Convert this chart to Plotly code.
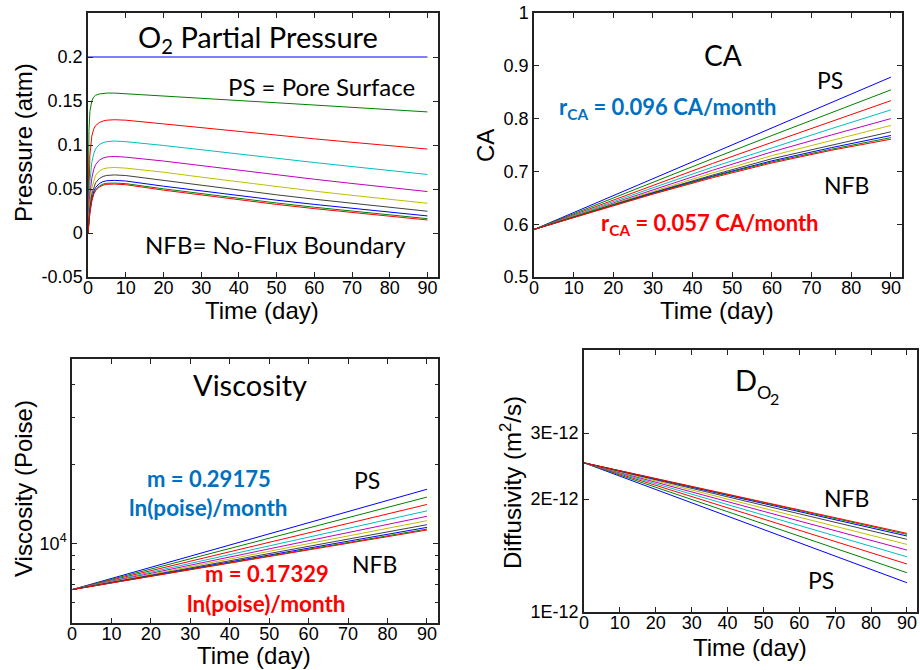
import plotly.graph_objects as go

W, H = 920, 670

# Ten radial nodes, from the pore surface (PS) to the no-flux boundary (NFB)
node_colors = ["#0000FF", "#008000", "#FF0000", "#00BFBF", "#BF00BF",
               "#BFBF00", "#404040", "#0000FF", "#008000", "#FF0000"]

# ---- O2 partial pressure (atm) ----
days_p = [0, 0.25, 0.5, 1, 1.5, 2, 3, 4, 5, 7, 10, 20, 30, 40, 50, 60, 70, 80, 90]
p_node1 = [0.2] * 19
p_node2 = [0.0, 0.115, 0.138, 0.150, 0.1545, 0.1565, 0.158, 0.1587, 0.159, 0.159, 0.1583,
           0.1557, 0.1531, 0.1505, 0.148, 0.1454, 0.1428, 0.1402, 0.1376]
p_node3 = [0.0, 0.060, 0.088, 0.110, 0.118, 0.122, 0.1255, 0.1272, 0.1282, 0.1287, 0.1282,
           0.124, 0.1196, 0.1152, 0.111, 0.107, 0.1031, 0.0992, 0.0954]
p_node4 = [0.0, 0.035, 0.058, 0.080, 0.090, 0.0955, 0.1005, 0.1027, 0.1038, 0.1045, 0.1038,
           0.0995, 0.0945, 0.0895, 0.0847, 0.0801, 0.0755, 0.071, 0.0665]
p_node5 = [0.0, 0.025, 0.043, 0.062, 0.072, 0.0775, 0.0828, 0.0852, 0.0864, 0.087, 0.0862,
           0.0818, 0.0765, 0.0712, 0.0661, 0.0611, 0.0563, 0.0516, 0.0471]
p_node6 = [0.0, 0.020, 0.035, 0.051, 0.060, 0.0655, 0.0705, 0.0728, 0.0739, 0.0745, 0.0737,
           0.0691, 0.0635, 0.058, 0.0527, 0.0476, 0.0428, 0.0382, 0.0338]
p_node7 = [0.0, 0.016, 0.029, 0.044, 0.052, 0.057, 0.062, 0.0643, 0.0654, 0.066, 0.0653,
           0.0597, 0.0543, 0.0488, 0.0434, 0.0384, 0.0336, 0.029, 0.0247]
p_node8 = [0.0, 0.014, 0.025, 0.039, 0.047, 0.0515, 0.0562, 0.0584, 0.0594, 0.0598, 0.0591,
           0.0532, 0.0478, 0.0425, 0.0373, 0.0325, 0.028, 0.0236, 0.0194]
p_node9 = [0.0, 0.013, 0.024, 0.037, 0.045, 0.049, 0.0535, 0.0556, 0.0565, 0.0568, 0.0561,
           0.0502, 0.0447, 0.0393, 0.0341, 0.0293, 0.0247, 0.0204, 0.0163]
p_node10 = [0.0, 0.013, 0.023, 0.036, 0.044, 0.048, 0.0523, 0.0544, 0.0553, 0.0556, 0.0549,
            0.0487, 0.0431, 0.0377, 0.0325, 0.0277, 0.0232, 0.0189, 0.0148]
pressure = [p_node1, p_node2, p_node3, p_node4, p_node5,
            p_node6, p_node7, p_node8, p_node9, p_node10]

# ---- contact angle (CA) ----
days = [0, 15, 30, 45, 60, 75, 90]
ca_node1 = [0.59, 0.638, 0.686, 0.734, 0.782, 0.830, 0.8785]
ca_node2 = [0.59, 0.635, 0.680, 0.724, 0.768, 0.811, 0.8544]
ca_node3 = [0.59, 0.632, 0.674, 0.715, 0.755, 0.795, 0.834]
ca_node4 = [0.59, 0.630, 0.669, 0.708, 0.745, 0.781, 0.8165]
ca_node5 = [0.59, 0.628, 0.665, 0.702, 0.737, 0.769, 0.800]
ca_node6 = [0.59, 0.627, 0.662, 0.697, 0.730, 0.759, 0.787]
ca_node7 = [0.59, 0.626, 0.660, 0.693, 0.724, 0.750, 0.775]
ca_node8 = [0.59, 0.625, 0.659, 0.691, 0.720, 0.745, 0.768]
ca_node9 = [0.59, 0.625, 0.658, 0.690, 0.718, 0.742, 0.764]
ca_node10 = [0.59, 0.624, 0.657, 0.688, 0.716, 0.740, 0.761]
contact_angle = [ca_node1, ca_node2, ca_node3, ca_node4, ca_node5,
                 ca_node6, ca_node7, ca_node8, ca_node9, ca_node10]

# ---- viscosity (poise) ----
v_node1 = [6690, 7741, 8957, 10363, 11990, 13874, 16053]
v_node2 = [6690, 7653, 8755, 10015, 11457, 13106, 14995]
v_node3 = [6690, 7572, 8570, 9699, 10977, 12424, 14058]
v_node4 = [6690, 7502, 8412, 9432, 10576, 11859, 13295]
v_node5 = [6690, 7443, 8280, 9212, 10248, 11402, 12685]
v_node6 = [6690, 7396, 8176, 9039, 9993, 11047, 12209]
v_node7 = [6690, 7352, 8080, 8880, 9759, 10725, 11787]
v_node8 = [6690, 7324, 8017, 8777, 9608, 10518, 11513]
v_node9 = [6690, 7306, 7978, 8713, 9515, 10390, 11345]
v_node10 = [6690, 7295, 7956, 8676, 9461, 10318, 11251]
viscosity = [v_node1, v_node2, v_node3, v_node4, v_node5,
             v_node6, v_node7, v_node8, v_node9, v_node10]

# ---- O2 diffusivity (1E-12 m^2/s) ----
d_node1 = [2.5, 2.211, 1.956, 1.730, 1.530, 1.353, 1.197]
d_node2 = [2.5, 2.234, 1.996, 1.784, 1.594, 1.425, 1.273]
d_node3 = [2.5, 2.254, 2.032, 1.832, 1.652, 1.490, 1.343]
d_node4 = [2.5, 2.271, 2.063, 1.873, 1.702, 1.546, 1.404]
d_node5 = [2.5, 2.287, 2.091, 1.913, 1.749, 1.600, 1.463]
d_node6 = [2.5, 2.300, 2.116, 1.946, 1.790, 1.647, 1.515]
d_node7 = [2.5, 2.312, 2.138, 1.977, 1.828, 1.690, 1.563]
d_node8 = [2.5, 2.320, 2.152, 1.997, 1.853, 1.719, 1.595]
d_node9 = [2.5, 2.323, 2.159, 2.007, 1.865, 1.733, 1.611]
d_node10 = [2.5, 2.326, 2.163, 2.013, 1.872, 1.742, 1.621]
diffusivity = [d_node1, d_node2, d_node3, d_node4, d_node5,
               d_node6, d_node7, d_node8, d_node9, d_node10]

x_ticks = [0, 10, 20, 30, 40, 50, 60, 70, 80, 90]
p_ticks = [-0.05, 0, 0.05, 0.1, 0.15, 0.2]
p_ticktext = ["-0.05", "0", "0.05", "0.1", "0.15", "0.2"]
ca_ticks = [0.5, 0.6, 0.7, 0.8, 0.9, 1.0]
ca_ticktext = ["0.5", "0.6", "0.7", "0.8", "0.9", "1"]
v_ticks = [1e4]
v_ticktext = ["10<sup>4</sup>"]
v_minor = [6000, 7000, 8000, 9000, 20000, 30000, 40000]
d_ticks = [1e-12, 2e-12, 3e-12]
d_ticktext = ["1E-12", "2E-12", "3E-12"]

AX_FONT = "Liberation Sans, Arial, sans-serif"
TXT_FONT = "Lato, Open Sans, sans-serif"
BLUE_TXT = "#0070C0"
RED_TXT = "#FF0000"

fig = go.Figure()

def add_lines(xs, series, xa, ya, scale=1.0):
    for i, ys in enumerate(series):
        fig.add_trace(go.Scatter(
            x=xs, y=[v * scale for v in ys], mode="lines",
            line=dict(color=node_colors[i], width=1),
            xaxis=xa, yaxis=ya, showlegend=False, hoverinfo="skip"))

add_lines(days_p, pressure, "x", "y")
add_lines(days, contact_angle, "x2", "y2")
add_lines(days, viscosity, "x3", "y3")
add_lines(days, diffusivity, "x4", "y4", scale=1e-12)

def px_dom_x(a, b):
    return [a / W, b / W]

def px_dom_y(top, bottom):
    return [1 - bottom / H, 1 - top / H]

common = dict(showline=True, linecolor="#222", linewidth=1.5, mirror="ticks",
              ticks="inside", ticklen=5, tickwidth=1, tickcolor="#222",
              showgrid=False, zeroline=False, automargin=False,
              tickfont=dict(family=AX_FONT, size=18, color="black"))

def xax(dom, anchor):
    return dict(common, domain=dom, anchor=anchor, range=[0, 92.8],
                tickmode="array", tickvals=x_ticks, ticklabelstandoff=-6)

def yax(dom, anchor, **kw):
    return dict(common, domain=dom, anchor=anchor, **kw)

fig.update_layout(
    width=W, height=H, margin=dict(l=0, r=0, t=0, b=0, pad=0, autoexpand=False),
    paper_bgcolor="white", plot_bgcolor="white",
    xaxis=xax(px_dom_x(88, 438), "y"),
    yaxis=yax(px_dom_y(13, 277), "x", range=[-0.05, 0.25],
              tickmode="array", tickvals=p_ticks, ticktext=p_ticktext),
    xaxis2=xax(px_dom_x(534, 902), "y2"),
    yaxis2=yax(px_dom_y(13, 277), "x2", range=[0.5, 1.0],
               tickmode="array", tickvals=ca_ticks, ticktext=ca_ticktext),
    xaxis3=xax(px_dom_x(72, 438), "y3"),
    yaxis3=yax(px_dom_y(359, 623), "x3", type="log",
               range=[3.699, 4.699], tickmode="array", tickvals=v_ticks,
               ticktext=v_ticktext,
               minor=dict(tickmode="array", tickvals=v_minor, ticks="inside",
                          ticklen=3, tickcolor="#222")),
    xaxis4=xax(px_dom_x(584, 917), "y4"),
    yaxis4=yax(px_dom_y(350, 612), "x4", type="log",
               range=[-12, -11.301], tickmode="array", tickvals=d_ticks,
               ticktext=d_ticktext),
)

ann = []

def txt(text, x, y, xref, yref, size=23, color="black", bold=False, angle=0, family=TXT_FONT):
    ann.append(dict(text=("<b>%s</b>" % text) if bold else text, x=x, y=y,
                    xref=xref, yref=yref, showarrow=False, textangle=angle,
                    xanchor="center", yanchor="middle",
                    font=dict(family=family, size=size, color=color)))

def ptext(text, px, py, size=23, angle=0, family=TXT_FONT):
    txt(text, px / W, 1 - py / H, "paper", "paper", size=size, angle=angle, family=family)

# axis titles
ptext("Pressure (atm)", 23, 143, size=24, angle=-90, family=AX_FONT)
ptext("Time (day)", 262, 310, size=24, family=AX_FONT)
ptext("CA", 486, 145, size=24, angle=-90, family=AX_FONT)
ptext("Time (day)", 717, 310, size=24, family=AX_FONT)
ptext("Viscosity (Poise)", 23, 489, size=24, angle=-90, family=AX_FONT)
ptext("Time (day)", 254, 655, size=24, family=AX_FONT)
ptext("Diffusivity (m<sup>2</sup>/s)", 511, 482, size=24, angle=-90, family=AX_FONT)
ptext("Time (day)", 750, 647, size=24, family=AX_FONT)

# panel titles and labels
txt("O<sub>2</sub> Partial Pressure", 45.1, 0.221, "x", "y", size=29)
txt("PS = Pore Surface", 62.0, 0.167, "x", "y", size=24)
txt("NFB= No-Flux Boundary", 49.8, -0.0126, "x", "y", size=24)

txt("CA", 47.6, 0.920, "x2", "y2", size=28)
txt("PS", 74.6, 0.873, "x2", "y2")
txt("NFB", 78.8, 0.674, "x2", "y2")
txt("r<sub>CA</sub> = 0.096 CA/month", 33.8, 0.820, "x2", "y2", size=22, color=BLUE_TXT, bold=True)
txt("r<sub>CA</sub> = 0.057 CA/month", 44.3, 0.600, "x2", "y2", size=22, color=RED_TXT, bold=True)

txt("Viscosity", 45.1, 4.603, "x3", "y3", size=29)
txt("PS", 74.8, 4.239, "x3", "y3")
txt("NFB", 76.8, 3.921, "x3", "y3")
txt("m = 0.29175", 34.7, 4.247, "x3", "y3", size=22, color=BLUE_TXT, bold=True)
txt("ln(poise)/month", 34.5, 4.136, "x3", "y3", size=22.5, color=BLUE_TXT, bold=True)
txt("m = 0.17329", 49.4, 3.887, "x3", "y3", size=22, color=RED_TXT, bold=True)
txt("ln(poise)/month", 49.4, 3.772, "x3", "y3", size=22.5, color=RED_TXT, bold=True)

# D with a two-level subscript O2
ptext("D", 746, 379, size=29)
ptext("O", 764, 392, size=18)
ptext("2", 774, 398, size=16)
txt("NFB", 73.1, -11.696, "x4", "y4")
txt("PS", 66.1, -11.915, "x4", "y4")

fig.update_layout(annotations=ann)

fig.write_html("out.html")
